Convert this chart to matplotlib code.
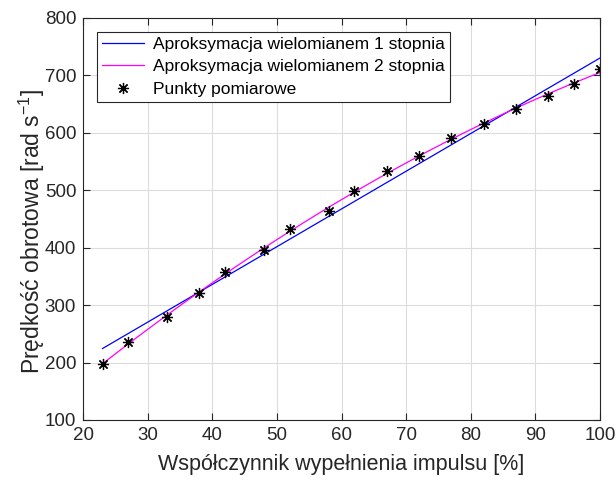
import numpy as np
import matplotlib.pyplot as plt

plt.rcParams['font.family'] = ['Liberation Sans', 'DejaVu Sans']
plt.rcParams['mathtext.fontset'] = 'custom'
plt.rcParams['mathtext.rm'] = 'Liberation Sans'

# measured duty cycle [%] and angular speed [rad/s]
duty = [23, 27, 33, 38, 42, 48, 52, 58, 62, 67, 72, 77, 82, 87, 92, 96, 100]
speed = [198, 235, 279, 321, 358, 396, 433, 464, 499, 534, 560, 590, 615, 641, 663, 685, 710]

x_ticks = [20, 30, 40, 50, 60, 70, 80, 90, 100]
y_ticks = [100, 200, 300, 400, 500, 600, 700, 800]

# polynomial fits of degree 1 and 2
p1 = np.polyfit(duty, speed, 1)
p2 = np.polyfit(duty, speed, 2)
xf = np.linspace(min(duty), max(duty), 200)

fig = plt.figure(figsize=(6.16, 4.8), dpi=100)
ax = fig.add_axes([0.135, 0.125, 0.839, 0.838])

ax.plot(xf, np.polyval(p1, xf), color='#0000ff', lw=0.9,
        label='Aproksymacja wielomianem 1 stopnia')
ax.plot(xf, np.polyval(p2, xf), color='#ff00ff', lw=0.9,
        label='Aproksymacja wielomianem 2 stopnia')
# 8-armed asterisk marker
ax.plot(duty, speed, marker=(8, 2, 0), color='black', ms=8, mew=0.9,
        linestyle='none', label='Punkty pomiarowe')

ax.set_xlim(20, 100)
ax.set_ylim(100, 800)
ax.set_xticks(x_ticks)
ax.set_yticks(y_ticks)
ax.grid(True, color='#dcdcdc', lw=0.8)
ax.set_axisbelow(True)

ax.tick_params(direction='in', top=True, right=True, length=5, width=0.8,
               colors='#262626', labelsize=13.5, pad=5)
for s in ax.spines.values():
    s.set_color('#262626')
    s.set_linewidth(0.8)

ax.set_xlabel('Współczynnik wypełnienia impulsu [%]', fontsize=15.5,
              color='#262626', labelpad=7)
ax.set_ylabel('Prędkość obrotowa [rad s$^{\\mathregular{-1}}$]', fontsize=16.5,
              color='#262626')
ax.yaxis.set_label_coords(-0.07, 0.47)

leg = ax.legend(loc='upper left', fontsize=12.5, fancybox=False, framealpha=1,
                edgecolor='#262626', borderaxespad=0.8, handlelength=2.4,
                labelspacing=0.42, borderpad=0.3, handletextpad=0.5)
leg.get_frame().set_linewidth(0.8)

fig.savefig('out.png', dpi=100)
